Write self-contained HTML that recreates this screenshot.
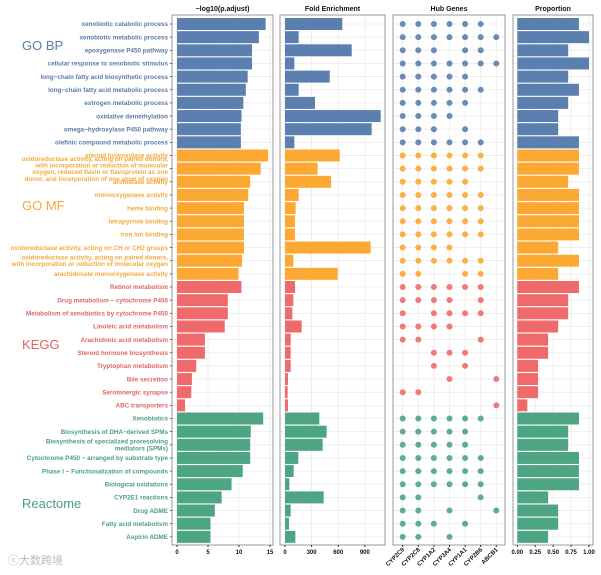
<!DOCTYPE html>
<html><head><meta charset="utf-8"><style>
html,body{margin:0;padding:0;background:#fff;width:601px;height:575px;overflow:hidden}
svg{display:block;font-family:"Liberation Sans","Noto Sans CJK SC",sans-serif}
</style></head><body>
<svg id="chart" width="601" height="575" viewBox="0 0 601 575" xmlns="http://www.w3.org/2000/svg"></svg>
<script>
const groups = ["GO  BP","GO  MF","KEGG","Reactome"];
const groupColors = ["#5b7fae","#fca933","#ef6b6b","#4da583"];
const labelColors = ["#5a7aa6","#f5a93a","#e06464","#4a9e7e"];
const terms = [
["xenobiotic catabolic process"],["xenobiotic metabolic process"],["epoxygenase P450 pathway"],["cellular response to xenobiotic stimulus"],["long−chain fatty acid biosynthetic process"],["long−chain fatty acid metabolic process"],["estrogen metabolic process"],["oxidative demethylation"],["omega−hydroxylase P450 pathway"],["olefinic compound metabolic process"],
["steroid hydroxylase activity"],["oxidoreductase activity, acting on paired donors,","with incorporation or reduction of molecular","oxygen, reduced flavin or flavoprotein as one","donor, and incorporation of one atom of oxygen"],["aromatase activity"],["monooxygenase activity"],["heme binding"],["tetrapyrrole binding"],["iron ion binding"],["oxidoreductase activity, acting on CH or CH2 groups"],["oxidoreductase activity, acting on paired donors,","with incorporation or reduction of molecular oxygen"],["arachidonate monooxygenase activity"],
["Retinol metabolism"],["Drug metabolism − cytochrome P450"],["Metabolism of xenobiotics by cytochrome P450"],["Linoleic acid metabolism"],["Arachidonic acid metabolism"],["Steroid hormone biosynthesis"],["Tryptophan metabolism"],["Bile secretion"],["Serotonergic synapse"],["ABC transporters"],
["Xenobiotics"],["Biosynthesis of DHA−derived SPMs"],["Biosynthesis of specialized proresolving","mediators (SPMs)"],["Cytochrome P450 − arranged by substrate type"],["Phase I − Functionalization of compounds"],["Biological oxidations"],["CYP2E1 reactions"],["Drug ADME"],["Fatty acid metabolism"],["Aspirin ADME"]];
const logP = [14.3,13.2,12.1,12.1,11.4,11.1,10.7,10.4,10.3,10.3, 14.7,13.5,11.8,11.5,10.8,10.8,10.8,10.8,10.5,9.9, 10.4,8.2,8.2,7.7,4.5,4.5,3.1,2.4,2.3,1.3, 13.9,11.9,11.8,11.8,10.6,8.8,7.2,6.1,5.4,5.4];
const fold = [646,154,752,105,504,154,338,1079,977,105, 617,368,519,154,120,113,113,966,94,594, 113,94,83,188,64,64,64,34,30,34, 387,470,425,150,98,49,436,64,45,117];
const prop = [.86,1,.71,1,.71,.86,.71,.57,.57,.86, .86,.86,.71,.86,.86,.86,.86,.57,.86,.57, .86,.71,.71,.57,.43,.43,.29,.29,.29,.14, .86,.71,.71,.86,.86,.86,.43,.57,.57,.43];
const genes = ["CYP2C9","CYP2C8","CYP1A2","CYP3A4","CYP1A1","CYP2B6","ABCB1"];
const hub = ["1111110","1111111","1110110","1111111","1111100","1111110","1111100","1111000","1110100","1111110",
"1111110","1111110","1111100","1111110","1111110","1111110","1111110","1111000","1111110","1100110",
"1111110","1111010","1011110","1111000","1100010","0011100","0010100","0001001","1100000","0000001",
"1111110","1111100","1111100","1111110","1111110","1111110","1100010","1101001","1110100","1101000"];
const logTicks = [0,5,10,15], foldTicks=[0,300,600,900], propTicks=[0,.25,.5,.75,1];
const propTickLabels=["0.00","0.25","0.50","0.75","1.00"];

const svg=document.getElementById('chart');
const NS="http://www.w3.org/2000/svg";
function mk(tag,attrs,parent){const e=document.createElementNS(NS,tag);for(const k in attrs)e.setAttribute(k,attrs[k]);(parent||svg).appendChild(e);return e;}
const top0=15,bot=545,row0=24,rowStep=13.15,barH=12;
const yRow=i=>row0+i*rowStep;
const grp=i=>Math.floor(i/10);
const P1={l:172,r:273,x0:177,k:6.2};
const P2={l:280,r:385,x0:285,k:0.0887};
const P3={l:393,r:505,x0:402.7,k:15.6};
const P4={l:513,r:593,x0:517.3,k:71.7};
const x1=v=>P1.x0+v*P1.k, x2=v=>P2.x0+v*P2.k, x3=j=>P3.x0+j*P3.k, x4=v=>P4.x0+v*P4.k;

function panel(P,title,name,vticks,xf){
  const g=mk('g',{});
  
  
  vticks.forEach(v=>{mk('line',{x1:xf(v),x2:xf(v),y1:top0,y2:bot,stroke:'#ebebeb','stroke-width':0.8},g);});
  for(let i=0;i<40;i++){mk('line',{x1:P.l,x2:P.r,y1:yRow(i),y2:yRow(i),stroke:'#ebebeb','stroke-width':0.8},g);}
  const t=mk('text',{x:(P.l+P.r)/2,y:11,'text-anchor':'middle','font-size':7,'font-weight':'bold',fill:'#111'},svg);
  t.textContent=title;
  
  
  return g;
}
function frame(P,name){const r=mk('rect',{x:P.l,y:top0,width:P.r-P.l,height:bot-top0,fill:'none',stroke:'#999','stroke-width':1});
  }
function xticks(P,vals,labs,xf,name){vals.forEach((v,i)=>{mk('line',{x1:xf(v),x2:xf(v),y1:bot,y2:bot+2,stroke:'#333'});
  const t=mk('text',{x:xf(v),y:bot+9,'text-anchor':'middle','font-size':6,'font-weight':'bold',fill:'#111'});t.textContent=labs[i];
  });}

// Panel 1
const g1=panel(P1,'−log10(p.adjust)','log-p',logTicks,x1);
logP.forEach((v,i)=>{const r=mk('rect',{x:x1(0),y:yRow(i)-barH/2,width:x1(v)-x1(0),height:barH,fill:groupColors[grp(i)]},g1);
  });
frame(P1,'log-p');xticks(P1,logTicks,logTicks.map(String),x1,'log-p');
// Panel 2
const g2=panel(P2,'Fold  Enrichment','fold',foldTicks,x2);
fold.forEach((v,i)=>{const r=mk('rect',{x:x2(0),y:yRow(i)-barH/2,width:x2(v)-x2(0),height:barH,fill:groupColors[grp(i)]},g2);
  });
frame(P2,'fold');xticks(P2,foldTicks,foldTicks.map(String),x2,'fold');
// Panel 3
const g3=panel(P3,'Hub Genes','hub-genes',genes.map((g,j)=>j),x3);
hub.forEach((s,i)=>{for(let j=0;j<genes.length;j++){if(s[j]==='1'){const c=mk('circle',{cx:x3(j),cy:yRow(i),r:3,fill:groupColors[grp(i)],opacity:0.9},g3);
  }}});
frame(P3,'hub-genes');
genes.forEach((g,j)=>{mk('line',{x1:x3(j),x2:x3(j),y1:bot,y2:bot+2,stroke:'#333'});
  const t=mk('text',{x:x3(j)+2,y:bot+5,'text-anchor':'end','font-size':6,'font-weight':'bold',fill:'#111',transform:`rotate(-45 ${x3(j)+2} ${bot+5})`});t.textContent=g;
  });
// Panel 4
const g4=panel(P4,'Proportion','proportion',propTicks,x4);
prop.forEach((v,i)=>{const r=mk('rect',{x:x4(0),y:yRow(i)-barH/2,width:x4(v)-x4(0),height:barH,fill:groupColors[grp(i)]},g4);
  });
frame(P4,'proportion');xticks(P4,propTicks,propTickLabels,x4,'proportion');

// Row labels
terms.forEach((lines,i)=>{const lh=6.6;const y0=yRow(i)-(lines.length-1)*lh/2+2.2;
  lines.forEach((ln,k)=>{const t=mk('text',{x:168,y:y0+k*lh,'text-anchor':'end','font-size':6.3,'font-weight':'bold',fill:labelColors[grp(i)]});t.textContent=ln;
  });
  mk('line',{x1:170,x2:172,y1:yRow(i),y2:yRow(i),stroke:'#333','stroke-width':0.7});
});
// Group labels
const gy=[50,210,349,508];
groups.forEach((g,k)=>{const t=mk('text',{x:22,y:gy[k],'font-size':13,fill:labelColors[k]});t.textContent=g;t.setAttribute('xml:space','preserve');
  });
// Watermark
const w=mk('text',{x:8,y:564,'font-size':11,fill:'#bbb'});w.textContent='ⓒ大数跨境';

</script>
</body></html>
